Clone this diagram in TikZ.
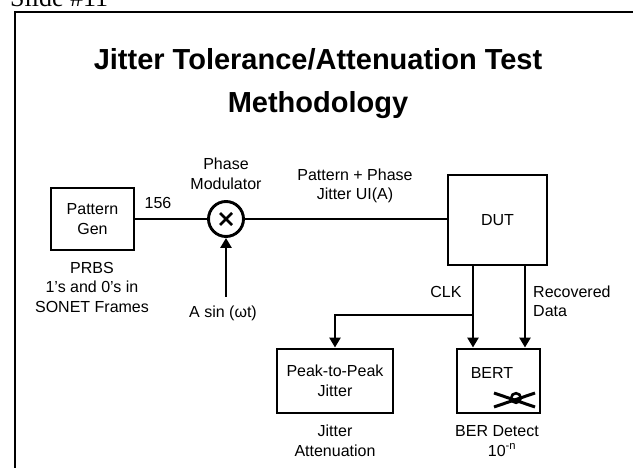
\documentclass[tikz,border=0pt]{standalone}
\usepackage{fontspec}
\setmainfont{Liberation Sans}
\newfontfamily\hdrfont{Liberation Serif}
\usetikzlibrary{arrows.meta,calc}
\tikzset{
  blk/.style={draw, line width=2.9pt, inner sep=0pt, align=center, font=\fontsize{16}{19.5}\selectfont},
  lbl/.style={align=center, inner sep=0pt, font=\fontsize{16}{19.5}\selectfont},
  wire/.style={line width=2.6pt},
  arr/.style={line width=2.6pt, -{Triangle[length=10pt,width=11pt]}},
}
\begin{document}
\begin{tikzpicture}[x=1pt,y=-1pt]
\useasboundingbox (0,0) rectangle (633,468);
% header and frame
\node[anchor=base west, inner sep=0pt, font=\hdrfont\fontsize{26}{26}\selectfont] (hdr) at (10,6.5) {Slide \#11};
\draw[line width=1.8pt] (633,12) -- (15,12) -- (15,470);
% title
\node[align=center, inner sep=0pt, font=\bfseries\fontsize{29}{43}\selectfont] (title) at (318,84) {Jitter Tolerance/Attenuation Test\\Methodology};
% blocks
\node[blk, minimum width=83, minimum height=62] (pg) at (92.5,219) {Pattern\\Gen};
\node[draw, circle, line width=2.9pt, minimum size=35, inner sep=0pt] (pm) at (226,219) {};
\draw[line width=2.8pt] ($(pm.center)+(-6,-6)$) -- ($(pm.center)+(6,6)$);
\draw[line width=2.8pt] ($(pm.center)+(-6,6)$) -- ($(pm.center)+(6,-6)$);
\node[blk, minimum width=99, minimum height=90] (dut) at (497.5,220) {DUT};
\node[blk, minimum width=116, minimum height=64] (peak) at (335,381) {Peak-to-Peak\\Jitter};
\node[blk, minimum width=83, minimum height=64] (bert) at (498.5,381) {};
\node[lbl] (berttxt) at (492,373) {BERT};
% BERT eye symbol
\draw[line width=3pt] (494,393) -- (535,407);
\draw[line width=3pt] (494,407) -- (535,393);
\draw[line width=2.6pt] (516,398) circle (4.8);
% labels
\node[lbl] (phmod) at (226,174) {Phase\\Modulator};
\node[lbl] (n156) at (158,203) {156};
\node[lbl] (prbs) at (92,287) {PRBS\\1's and 0's in\\SONET Frames};
\node[lbl] (asin) at (223,313) {A sin (ωt)};
\node[lbl] (ppj) at (355,186) {Pattern + Phase\\Jitter UI(A)};
\node[lbl] (clk) at (446,292) {CLK};
\node[lbl, align=left, anchor=west] (recd) at (533,301.5) {Recovered\\Data};
\node[lbl] (jatt) at (335,441) {Jitter\\Attenuation};
\node[lbl] (berd) at (497,441) {BER Detect\\\hspace*{10pt}10\textsuperscript{-n}};
% connectors
\coordinate (asrc) at (226,297);
\coordinate (clktop) at (473,265);
\coordinate (rectop) at (525,265);
\coordinate (br) at (473,315);
\draw[wire] (pg.east) -- (pm.west);
\draw[wire] (pm.east) -- (pm.east -| dut.west);
\draw[arr] (asrc) -- (pm.south);
\draw[arr] (clktop) -- (clktop |- bert.north);
\draw[arr] (rectop) -- (rectop |- bert.north);
\draw[arr] (br) -| (peak.north);
\end{tikzpicture}
\end{document}
